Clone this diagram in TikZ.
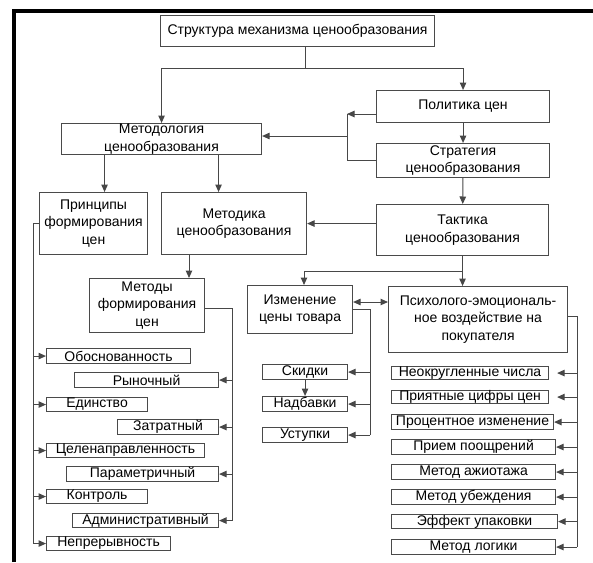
\documentclass[tikz,border=0pt]{standalone}
\usepackage{fontspec}
\setmainfont{Liberation Sans}
\usetikzlibrary{arrows.meta}
\definecolor{lc}{HTML}{474747}
\definecolor{bc}{HTML}{4A4A4A}
\tikzset{
  bx/.style={draw=bc, line width=1.1pt, inner sep=0pt, align=center,
    font=\fontsize{14}{17.5}\selectfont, anchor=north west},
  cn/.style={draw=lc, line width=1pt},
  ar/.style={cn, -{Triangle[length=7.5pt,width=6.5pt]}},
  dar/.style={cn, {Triangle[length=7.5pt,width=6.5pt]}-{Triangle[length=7.5pt,width=6.5pt]}},
}
\newcommand{\bxat}[6]{\node[bx, minimum width=#4-#2, minimum height=#5-#3] (#1) at (#2,#3) {#6};}
\begin{document}
\begin{tikzpicture}[x=1pt,y=-1pt]
\useasboundingbox (0,0) rectangle (593,562);
% frame
\draw[line width=4pt, black] (14,562) -- (14,10.5) -- (593,10.5);

% main boxes
\bxat{top}{160}{15}{434}{46}{Структура механизма ценообразования}
\bxat{meth}{61}{123}{261}{154}{Методология\\ценообразования}
\bxat{pol}{376}{90}{549}{122}{Политика цен}
\bxat{strat}{376}{143}{549}{177}{Стратегия\\ценообразования}
\bxat{takt}{376}{204}{548}{255}{Тактика\\ценообразования}
\bxat{metodika}{161}{192}{306}{254}{Методика\\ценообразования}
\bxat{princ}{39}{192}{147}{254}{Принципы\\формирования\\цен}
\bxat{methods}{89}{278}{204}{332}{Методы\\формирования\\цен}
\bxat{izm}{247}{285}{352}{333}{Изменение\\цены товара}
\bxat{psy}{388}{286}{567}{352}{Психолого-эмоциональ-\\ное воздействие на\\покупателя}

% left column
\bxat{obosn}{46}{348}{190}{363}{Обоснованность}
\bxat{ryn}{74}{372}{218}{387}{Рыночный}
\bxat{edin}{46}{397}{147}{411}{Единство}
\bxat{zatr}{117}{419}{218}{434}{Затратный}
\bxat{celen}{46}{443}{204}{457}{Целенаправленность}
\bxat{param}{66}{466}{218}{481}{Параметричный}
\bxat{kontr}{46}{489}{147}{503}{Контроль}
\bxat{admin}{72}{513}{218}{527}{Административный}
\bxat{nepr}{46}{536}{170}{550}{Непрерывность}

% middle column
\bxat{skid}{262}{364}{347}{379}{Скидки}
\bxat{nadb}{262}{396}{347}{411}{Надбавки}
\bxat{ustup}{262}{427}{347}{442}{Уступки}

% right column
\bxat{r1}{391}{366}{548}{379}{Неокругленные числа}
\bxat{r2}{391}{390}{548}{403}{Приятные цифры цен}
\bxat{r3}{391}{414}{553}{429}{Процентное изменение}
\bxat{r4}{391}{439}{555}{454}{Прием поощрений}
\bxat{r5}{391}{464}{555}{479}{Метод ажиотажа}
\bxat{r6}{391}{489}{555}{504}{Метод убеждения}
\bxat{r7}{391}{514}{557}{528}{Эффект упаковки}
\bxat{r8}{391}{539}{555}{554}{Метод логики}

% connectors
\coordinate (j1) at (305,68);
\draw[cn] (j1 |- top.south) -- (j1);
\draw[ar] (j1) -| (meth.north);
\draw[ar] (j1) -| (pol.north);
\draw[ar] (pol) -- (strat);
\coordinate (j2) at (347,114);
\draw[ar] (pol.west |- j2) -- (j2);
\draw[cn] (j2) -- (j2 |- strat.west) -- (strat.west);
\coordinate (j2b) at (347,136);
\draw[ar] (j2b) -- (meth.east |- j2b);
\draw[ar] (strat) -- (takt);
\draw[ar] (takt.west |- metodika.east) -- (metodika.east);
\draw[ar] ([xshift=-57pt]meth.south) -- ([xshift=-57pt]meth.south |- princ.north);
\draw[ar] ([xshift=57pt]meth.south) -- ([xshift=57pt]meth.south |- metodika.north);
\coordinate (c1) at (189,0);
\draw[ar] (metodika.south -| c1) -- (methods.north -| c1);

% methods branch
\coordinate (mr) at (232,308);
\draw[cn] (methods.east |- mr) -- (mr) -- (mr |- admin.east);
\foreach \n in {ryn,zatr,param,admin} \draw[ar] (mr |- \n.east) -- (\n.east);

% principles branch
\coordinate (pl) at (33,223);
\draw[cn] (princ.west |- pl) -- (pl) -- (pl |- nepr.west);
\foreach \n in {obosn,edin,celen,kontr,nepr} \draw[ar] (pl |- \n.west) -- (\n.west);

% tactic branch
\coordinate (j3) at (304,271);
\draw[cn] (takt.south) -- (takt.south |- j3) -- (j3);
\draw[ar] (j3) -- (j3 |- izm.north);
\draw[ar] (takt.south |- j3) -- (takt.south |- psy.north);
\coordinate (d1) at (370,302);
\draw[dar] (izm.east |- d1) -- (psy.west |- d1);

\coordinate (ir) at (370,309);
\draw[cn] (izm.east |- ir) -- (ir) -- (ir |- ustup.east);
\foreach \n in {skid,nadb,ustup} \draw[ar] (ir |- \n.east) -- (\n.east);
\draw[ar] (skid) -- (nadb);

\coordinate (pr) at (577,316);
\draw[cn] (psy.east |- pr) -- (pr) -- (pr |- r8.east);
\foreach \n in {r1,r2} \draw[ar, shorten >=8pt] (pr |- \n.east) -- (\n.east);
\foreach \n in {r3,r4,r5,r6,r7,r8} \draw[ar] (pr |- \n.east) -- (\n.east);
\end{tikzpicture}
\end{document}
